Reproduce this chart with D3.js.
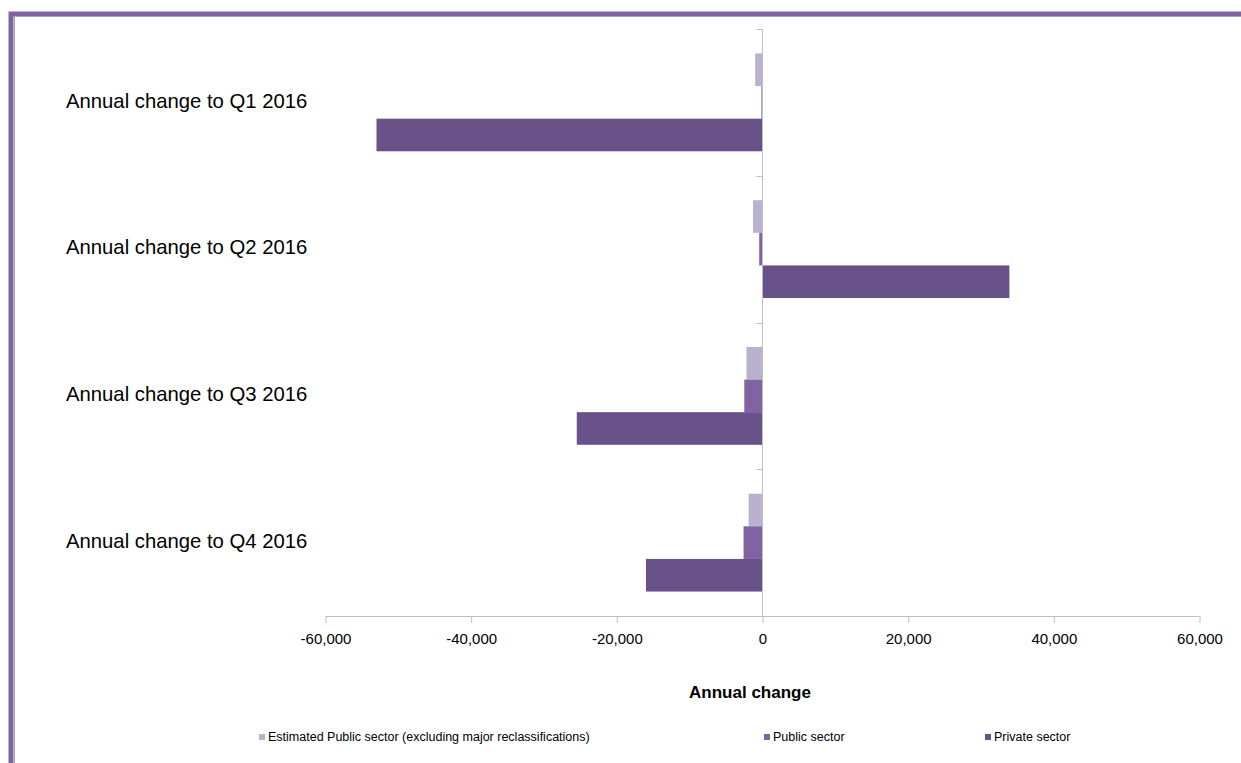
<!DOCTYPE html>
<head>
    <meta charset="utf-8">
    <title>Annual change</title>
    <script src="https://cdn.jsdelivr.net/npm/d3@7"></script>
    <style>
        body { margin: 0; background: #fff; }
        text { font-family: Arial, "Liberation Sans", sans-serif; }
    </style>
</head>
<body>
<div id="container"></div>
<script>

    // Data
    const categories = ["Annual change to Q1 2016", "Annual change to Q2 2016", "Annual change to Q3 2016", "Annual change to Q4 2016"];
    const seriesNames = ["Estimated Public sector (excluding major reclassifications)", "Public sector", "Private sector"];
    const estimatedPublic = [-1000, -1300, -2200, -1900];
    const publicSector = [-150, -450, -2500, -2600];
    const privateSector = [-53000, 33900, -25500, -16000];
    const xTicks = [-60000, -40000, -20000, 0, 20000, 40000, 60000];

    const colors = ["#bab1cf", "#8064a2", "#69518a"];
    const seriesValues = [estimatedPublic, publicSector, privateSector];

    const width = 1241;
    const height = 763;

    const svg = d3.select("#container")
        .append("svg")
        .attr("width", width)
        .attr("height", height);

    // Frame (purple border top and left)
    svg.append("rect")
        .attr("x", 11)
        .attr("y", 14)
        .attr("width", width + 20)
        .attr("height", height + 20)
        .attr("fill", "none")
        .attr("stroke", "#8064a2")
        .attr("stroke-width", 5);
    svg.append("line")
        .attr("x1", 14.5).attr("y1", 16.5).attr("x2", width).attr("y2", 16.5)
        .attr("stroke", "#a6a6a6").attr("stroke-width", 1);
    svg.append("line")
        .attr("x1", 14.5).attr("y1", 16.5).attr("x2", 14.5).attr("y2", height)
        .attr("stroke", "#a6a6a6").attr("stroke-width", 1);

    // Scales
    const x = d3.scaleLinear()
        .domain([-60000, 60000])
        .range([325.5, 1199.5]);

    const y0 = d3.scaleBand()
        .domain(categories)
        .range([29, 616])
        .paddingInner(1 / 3)
        .paddingOuter(1 / 6);

    const y1 = d3.scaleBand()
        .domain(seriesNames)
        .range([0, y0.bandwidth()]);

    const step = y0.step();

    // Bars
    const groups = svg.selectAll(".group")
        .data(categories)
        .enter()
        .append("g")
        .attr("class", "group")
        .attr("transform", d => `translate(0, ${y0(d)})`);

    groups.selectAll("rect")
        .data((d, i) => seriesNames.map((s, j) => ({ s: s, v: seriesValues[j][i], c: colors[j] })))
        .enter()
        .append("rect")
        .attr("x", d => x(Math.min(0, d.v)))
        .attr("y", d => y1(d.s))
        .attr("width", d => Math.abs(x(d.v) - x(0)))
        .attr("height", y1.bandwidth())
        .attr("fill", d => d.c);

    // Vertical axis at zero with category ticks
    const axisColor = "#bfbfbf";
    const yTop = y0.range()[0];
    const yBottom = y0.range()[1];
    svg.append("line")
        .attr("x1", x(0)).attr("x2", x(0))
        .attr("y1", yTop).attr("y2", yBottom)
        .attr("stroke", axisColor).attr("stroke-width", 1);

    const boundaries = d3.range(0, categories.length + 1).map(i => yTop + i * step);
    svg.selectAll(".cat-tick")
        .data(boundaries)
        .enter()
        .append("line")
        .attr("class", "cat-tick")
        .attr("x1", x(0) - 6).attr("x2", x(0))
        .attr("y1", d => Math.round(d) + 0.5).attr("y2", d => Math.round(d) + 0.5)
        .attr("stroke", axisColor).attr("stroke-width", 1);

    // Category labels
    svg.selectAll(".cat-label")
        .data(categories)
        .enter()
        .append("text")
        .attr("class", "cat-label")
        .attr("x", 66)
        .attr("y", d => y0(d) + y0.bandwidth() / 2)
        .attr("dominant-baseline", "middle")
        .attr("font-size", 20.3)
        .attr("fill", "#000")
        .text(d => d);

    // Horizontal axis
    const fmt = d3.format(",");
    const xAxis = svg.append("g")
        .attr("transform", `translate(0, ${yBottom})`)
        .call(d3.axisBottom(x)
            .tickValues(xTicks)
            .tickSize(7)
            .tickPadding(10)
            .tickFormat(d => fmt(d).replace("\u2212", "-")));

    xAxis.select(".domain").attr("stroke", axisColor).attr("d", `M${x(-60000)},0.5H${x(60000)}`);
    xAxis.selectAll(".tick line").attr("stroke", axisColor);
    xAxis.selectAll(".tick text")
        .attr("font-size", 15)
        .attr("font-family", "Arial, 'Liberation Sans', sans-serif")
        .attr("fill", "#000");

    // Axis title
    svg.append("text")
        .attr("x", 750)
        .attr("y", 698)
        .attr("text-anchor", "middle")
        .attr("font-size", 17)
        .attr("font-weight", "bold")
        .attr("fill", "#000")
        .text("Annual change");

    // Legend
    const legendX = [259, 764, 985];
    const legend = svg.selectAll(".legend")
        .data(seriesNames)
        .enter()
        .append("g")
        .attr("class", "legend")
        .attr("transform", (d, i) => `translate(${legendX[i]}, 738)`);

    legend.append("rect")
        .attr("x", 0).attr("y", -4)
        .attr("width", 6).attr("height", 6)
        .attr("fill", (d, i) => colors[i]);

    legend.append("text")
        .attr("x", 9)
        .attr("y", 0)
        .attr("dominant-baseline", "middle")
        .attr("font-size", 12.5)
        .attr("font-family", "'Liberation Sans Narrow', 'Arial Narrow', Arial, sans-serif")
        .attr("fill", "#000")
        .text(d => d);

</script>
</body>
